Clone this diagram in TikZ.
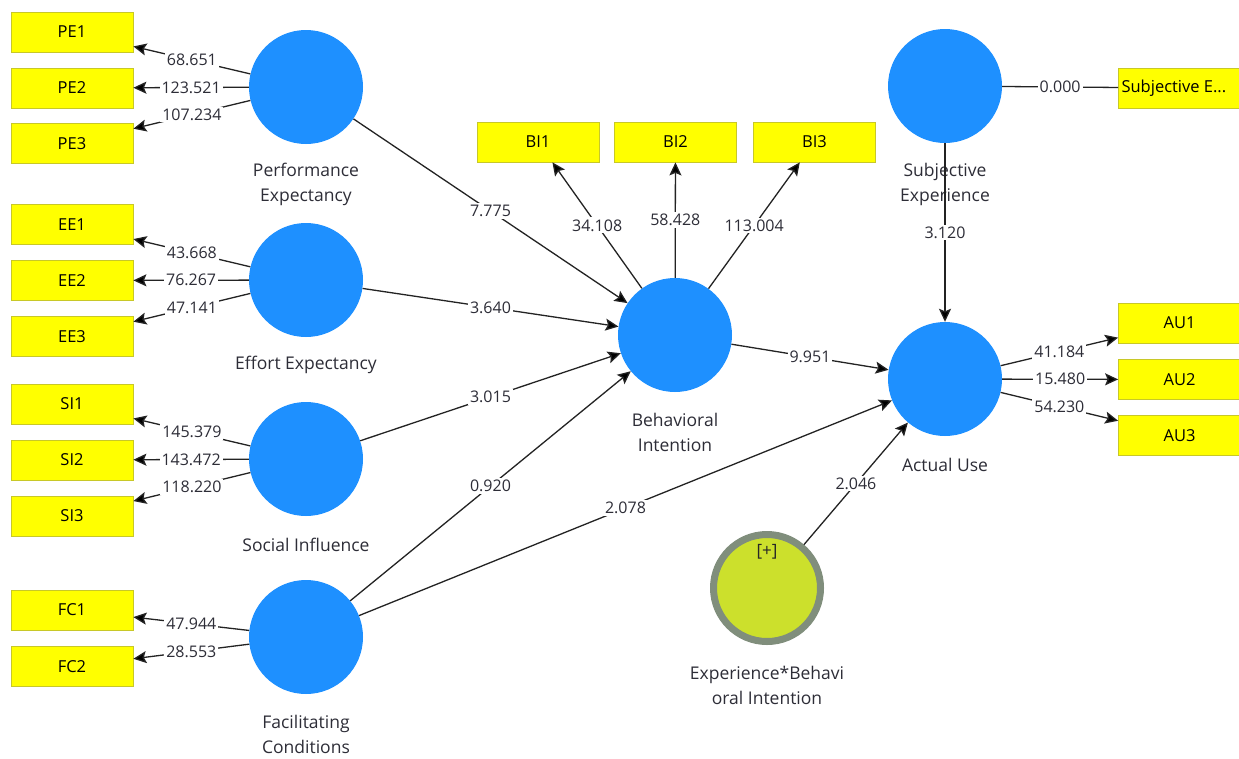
\documentclass[tikz,border=0pt]{standalone}
\usepackage{fontspec}
\setmainfont{Open Sans}
\usetikzlibrary{arrows.meta}
\definecolor{lvblue}{RGB}{30,144,255}
\definecolor{indfill}{RGB}{255,255,0}
\definecolor{indedge}{RGB}{200,200,40}
\definecolor{linec}{RGB}{35,35,35}
\definecolor{numc}{RGB}{45,45,55}
\definecolor{modfill}{RGB}{204,224,44}
\definecolor{modring}{RGB}{128,142,124}
\newcommand{\numfont}{\fontsize{16}{18}\selectfont}
\newcommand{\boxfont}{\fontsize{16.5}{19}\selectfont}
\newcommand{\capfont}{\fontsize{17.5}{25}\selectfont}
\tikzset{
  lv/.style={circle, fill=lvblue, minimum size=114pt, inner sep=0pt},
  modlv/.style={circle, fill=modfill, draw=modring, line width=7pt,
    minimum size=107pt, inner sep=0pt, outer sep=3.5pt},
  ind/.style={rectangle, draw=indedge, fill=indfill, line width=0.8pt,
    minimum width=122pt, minimum height=40pt, inner sep=0pt,
    font=\boxfont, text=black},
  capt/.style={align=center, font=\capfont, text=numc},
  conn/.style={draw=linec, line width=1.3pt,
    -{Stealth[length=13pt, width=12pt, inset=2.5pt, fill=black]}},
  plain/.style={draw=linec, line width=1.3pt},
  coef/.style={fill=white, inner sep=2pt, font=\numfont, text=numc}
}
\begin{document}
\begin{tikzpicture}[x=1pt, y=-1pt]
\useasboundingbox[fill=white] (0,0) rectangle (1239,758);

% latent variables
\node[lv] (PE) at (306,87) {};
\node[lv] (EE) at (306,280) {};
\node[lv] (SI) at (306,459) {};
\node[lv] (FC) at (306,637) {};
\node[lv] (BI) at (675,335) {};
\node[lv] (SE) at (945,86) {};
\node[lv] (AU) at (945,379) {};
\node[modlv] (EB) at (767,588) {};
\node[font=\fontsize{17}{19}\selectfont, text=black!85] (EBplus) at (767,552) {[+]};

% construct captions
\node[capt] (PEcap) at (306,184.5) {Performance\\Expectancy};
\node[capt] (EEcap) at (306,365) {Effort Expectancy};
\node[capt] (SIcap) at (306,545) {Social Influence};
\node[capt] (FCcap) at (306,734) {Facilitating\\Conditions};
\node[capt] (BIcap) at (675,432.5) {Behavioral\\Intention};
\node[capt] (SEcap) at (945,184.5) {Subjective\\Experience};
\node[capt] (AUcap) at (945,465) {Actual Use};
\node[capt] (EBcap) at (767,685) {Experience*Behavi\\oral Intention};

% indicators
\node[ind] (PE1) at (72,32) {PE1};
\node[ind] (PE2) at (72,88) {PE2};
\node[ind] (PE3) at (72,143.5) {PE3};
\node[ind] (EE1) at (72,224.5) {EE1};
\node[ind] (EE2) at (72,280.5) {EE2};
\node[ind] (EE3) at (72,336.5) {EE3};
\node[ind] (SI1) at (72,404) {SI1};
\node[ind] (SI2) at (72,460) {SI2};
\node[ind] (SI3) at (72,516) {SI3};
\node[ind] (FC1) at (72,610) {FC1};
\node[ind] (FC2) at (72,666.5) {FC2};
\node[ind] (BI1) at (538,142) {BI1};
\node[ind] (BI2) at (675.5,142) {BI2};
\node[ind] (BI3) at (814.5,142) {BI3};
\node[ind] (SE1) at (1179.5,88) {};
\node[font=\boxfont, text=black, anchor=west] (SE1txt) at (1118,88) {Subjective E...};
\node[ind] (AU1) at (1179.5,323) {AU1};
\node[ind] (AU2) at (1179.5,379.5) {AU2};
\node[ind] (AU3) at (1179.5,435.5) {AU3};

% outer loadings
\draw[conn] (PE) -- node[coef] {68.651} (PE1);
\draw[conn] (PE) -- node[coef] {123.521} (PE2);
\draw[conn] (PE) -- node[coef] {107.234} (PE3);
\draw[conn] (EE) -- node[coef] {43.668} (EE1);
\draw[conn] (EE) -- node[coef] {76.267} (EE2);
\draw[conn] (EE) -- node[coef] {47.141} (EE3);
\draw[conn] (SI) -- node[coef] {145.379} (SI1);
\draw[conn] (SI) -- node[coef] {143.472} (SI2);
\draw[conn] (SI) -- node[coef] {118.220} (SI3);
\draw[conn] (FC) -- node[coef] {47.944} (FC1);
\draw[conn] (FC) -- node[coef] {28.553} (FC2);
\draw[conn] (BI) -- node[coef] {34.108} (BI1);
\draw[conn] (BI) -- node[coef] {58.428} (BI2);
\draw[conn] (BI) -- node[coef] {113.004} (BI3);
\draw[conn] (AU) -- node[coef] {41.184} (AU1);
\draw[conn] (AU) -- node[coef] {15.480} (AU2);
\draw[conn] (AU) -- node[coef] {54.230} (AU3);
\draw[plain] (SE) -- node[coef] {0.000} (SE1);

% structural paths
\draw[conn] (PE) -- node[coef] {7.775} (BI);
\draw[conn] (EE) -- node[coef] {3.640} (BI);
\draw[conn] (SI) -- node[coef] {3.015} (BI);
\draw[conn] (FC) -- node[coef] {0.920} (BI);
\draw[conn] (FC) -- node[coef] {2.078} (AU);
\draw[conn] (BI) -- node[coef] {9.951} (AU);
\draw[conn] (SE) -- node[coef] {3.120} (AU);
\draw[conn] (EB) -- node[coef] {2.046} (AU);
\end{tikzpicture}
\end{document}
